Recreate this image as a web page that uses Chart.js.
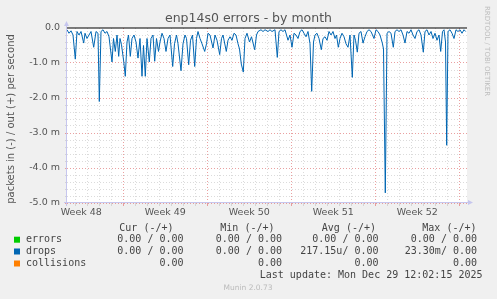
<!DOCTYPE html>
<html><head><meta charset="utf-8">
<script src="https://cdn.jsdelivr.net/npm/chart.js@4/dist/chart.umd.min.js"></script>
<style>
html,body{margin:0;padding:0;background:#f0f0f0;overflow:hidden}
canvas{display:block}
</style></head>
<body>
<canvas id="c" width="497" height="299"></canvas>
<script>
// time in hours since the left edge of the graph
const hours = [
 0,4,8,12,16.6,20,24,28,33.4,36,
 40,44,48,53.4,58,62,64.6,68,72,76,
 80,84,90,93,96.6,100,103.4,106,109,113.4,
 116.6,120,123,126.6,130,134,138,142,146,150,
 153,156.6,160,164.6,168,172,175.4,179,183,186,
 190,194,198,202,206,211.4,215,219,222,228,
 232,236,239,243.4,247,251,255.4,259,262,266,
 270,275.4,279,282,286,292,296,300,305.4,309,
 312,318.6,322,326,330,334,338,342,345,348.6,
 352.6,356,360,365,369,375.4,379,382,388,392,
 396,402,406,410,416,420.6,424,428,432,436,
 442,446,450,454,458,462,466,470,474,478,
 482,486,489.4,493,496,500,504,508.6,512,516,
 520,524,528,532,536,539,542.6,546,550,554,
 558,562,566,570.6,574,577,580.6,584,588,592,
 596,600,604,608,614,618,622,626,630.6,633,
 636.6,640,644,648,652.6,656,660,664,668,672,
 676,680,684,688,692,696,700,704,708,712.6,
 716,720,724,728,732,736,740,744,747.4,751,
 754,757,759.4,762,766,770,774,778,782,786,
 790,794,797.4
];
// drops, "in" direction (plotted negative), in milli-packets per second
const dropsIn = [
 -0.05,-0.15,-0.08,-0.2,-0.89,-0.1,-0.2,-0.1,-0.43,-0.15,
 -0.3,-0.2,-0.1,-0.55,-0.1,-0.15,-2.1,-0.1,-0.05,-0.15,
 -0.1,-0.25,-0.97,-0.3,-0.67,-0.2,-0.81,-0.3,-0.48,-0.95,
 -1.38,-0.4,-0.2,-0.81,-0.3,-0.2,-0.4,-0.86,-0.3,-1.38,
 -0.5,-1.38,-0.3,-0.97,-0.3,-0.2,-0.95,-0.3,-0.67,-0.4,
 -0.15,-0.3,-0.67,-0.3,-0.2,-1.1,-0.45,-0.2,-0.45,-1.22,
 -0.45,-0.2,-0.3,-1.05,-0.35,-0.2,-1.1,-0.3,-0.1,-0.3,
 -0.45,-0.67,-0.45,-0.15,-0.2,-0.57,-0.2,-0.35,-0.76,-0.3,
 -0.2,-0.67,-0.35,-0.25,-0.35,-0.15,-0.2,-0.45,-0.6,-1.03,
 -1.26,-0.3,-0.15,-0.4,-0.25,-0.62,-0.2,-0.1,-0.05,-0.1,
 -0.05,-0.1,-0.05,-0.1,-0.05,-0.84,-0.1,-0.05,-0.1,-0.05,
 -0.35,-0.2,-0.55,-0.15,-0.2,-0.3,-0.1,-0.05,-0.15,-0.25,
 -0.1,-0.45,-1.81,-0.4,-0.2,-0.15,-0.3,-0.62,-0.3,-0.25,
 -0.35,-0.1,-0.2,-0.1,-0.3,-0.2,-0.55,-0.3,-0.15,-0.25,
 -0.45,-0.55,-0.2,-1.41,-0.2,-0.35,-0.69,-0.15,-0.1,-0.43,
 -0.25,-0.1,-0.05,-0.1,-0.3,-0.05,-0.1,-0.2,-0.43,-0.6,
 -4.71,-0.15,-0.1,-0.15,-0.55,-0.1,-0.05,-0.1,-0.05,-0.2,
 -0.43,-0.1,-0.15,-0.05,-0.2,-0.3,-0.1,-0.05,-0.2,-0.69,
 -0.1,-0.05,-0.2,-0.1,-0.3,-0.15,-0.35,-0.2,-0.67,-0.1,
 -0.05,-0.4,-3.35,-0.1,-0.05,-0.15,-0.3,-0.05,-0.1,-0.05,
 -0.15,-0.05,-0.1
];
// zero rule (out direction is 0 everywhere)
const zeroRuleHours = [0, 800];
const zeroRuleValues = [0, 0];

const weekLabels = ['Week 48','Week 49','Week 50','Week 51','Week 52'];
const weekCenters = [28.6, 196.6, 364.6, 532.6, 700.6];
const weekBounds = [112.6, 280.6, 448.6, 616.6, 784.6];
const firstDayLine = 16.6;

const legendNames = ['errors','drops','collisions'];
const legendColors = ['#00cc00','#0066b3','#ff8000'];
const legendHeaders = ['Cur (-/+)','Min (-/+)','Avg (-/+)','Max (-/+)'];
const legendCur = ['0.00 / 0.00','0.00 / 0.00','0.00'];
const legendMin = ['0.00 / 0.00','0.00 / 0.00','0.00'];
const legendAvg = ['0.00 / 0.00','217.15u/ 0.00','0.00'];
const legendMax = ['0.00 / 0.00','23.30m/ 0.00','0.00'];
const titleText = 'enp14s0 errors - by month';
const yTitle = 'packets in (-) / out (+) per second';
const lastUpdate = 'Last update: Mon Dec 29 12:02:15 2025';
const footer = 'Munin 2.0.73';
const sideText = 'RRDTOOL / TOBI OETIKER';

const near = (a, arr) => arr.some(v => Math.abs(v - a) < 1e-6);

const decor = {
  id: 'decor',
  beforeDraw(chart) {
    const {ctx, chartArea: a} = chart;
    ctx.save();
    ctx.fillStyle = '#f0f0f0';
    ctx.fillRect(0, 0, chart.width, chart.height);
    ctx.fillStyle = '#ffffff';
    ctx.fillRect(a.left, a.top, a.right - a.left, a.bottom - a.top);
    ctx.restore();
  },
  afterDraw(chart) {
    const {ctx, chartArea: a} = chart;
    ctx.save();
    // axes with arrows
    ctx.strokeStyle = '#c6c6ee';
    ctx.fillStyle = '#c6c6ee';
    ctx.lineWidth = 1;
    ctx.beginPath();
    ctx.moveTo(a.left - 0.5, a.bottom + 3);
    ctx.lineTo(a.left - 0.5, a.top - 4);
    ctx.moveTo(a.left - 3, a.bottom - 0.5);
    ctx.lineTo(a.right + 3, a.bottom - 0.5);
    ctx.stroke();
    ctx.beginPath();
    ctx.moveTo(a.left - 0.5, a.top - 7);
    ctx.lineTo(a.left - 3, a.top - 2);
    ctx.lineTo(a.left + 2, a.top - 2);
    ctx.closePath(); ctx.fill();
    ctx.beginPath();
    ctx.moveTo(a.right + 6, a.bottom - 0.5);
    ctx.lineTo(a.right + 1, a.bottom - 3);
    ctx.lineTo(a.right + 1, a.bottom + 2);
    ctx.closePath(); ctx.fill();

    // title
    ctx.fillStyle = '#555555';
    ctx.font = '12.5px "DejaVu Sans"';
    ctx.textAlign = 'center';
    ctx.textBaseline = 'middle';
    ctx.fillText(titleText, 248.5, 19);

    // y title
    ctx.save();
    ctx.translate(11, 119);
    ctx.rotate(-Math.PI / 2);
    ctx.font = '10px "DejaVu Sans"';
    ctx.fillStyle = '#555';
    ctx.fillText(yTitle, 0, 0);
    ctx.restore();

    // side text
    ctx.save();
    ctx.translate(487, 6);
    ctx.rotate(Math.PI / 2);
    ctx.font = '7px "DejaVu Sans"';
    ctx.fillStyle = '#bdbdbd';
    ctx.textAlign = 'left';
    ctx.fillText(sideText, 0, 0);
    ctx.restore();

    // legend
    ctx.font = '10px "DejaVu Sans Mono"';
    ctx.fillStyle = '#444';
    ctx.textAlign = 'right';
    const hx = [173.5, 274.5, 376, 476.5];
    legendHeaders.forEach((h, i) => ctx.fillText(h, hx[i], 228));
    const rows = [239.7, 251.5, 263.5];
    const colX = [183.5, 282, 378.5, 477];
    legendNames.forEach((n, i) => {
      ctx.fillStyle = legendColors[i];
      ctx.fillRect(14, rows[i] - 3, 6, 6);
      ctx.fillStyle = '#444';
      ctx.textAlign = 'left';
      ctx.fillText(n, 26, rows[i]);
      ctx.textAlign = 'right';
      [legendCur, legendMin, legendAvg, legendMax].forEach((col, j) => {
        ctx.fillText(col[i], colX[j], rows[i]);
      });
    });
    ctx.textAlign = 'right';
    ctx.fillText(lastUpdate, 482.5, 275.7);
    ctx.textAlign = 'center';
    ctx.font = '7.5px "DejaVu Sans"';
    ctx.fillStyle = '#bbbbbb';
    ctx.fillText(footer, 248, 288);
    ctx.restore();
  }
};

new Chart(document.getElementById('c'), {
  type: 'line',
  data: {
    datasets: [
      {
        label: 'zero',
        data: zeroRuleHours.map((h, i) => ({x: h, y: zeroRuleValues[i]})),
        borderColor: '#000000', borderWidth: 1, pointRadius: 0, clip: false, order: 0
      },
      {
        label: 'drops',
        data: hours.map((h, i) => ({x: h, y: dropsIn[i]})),
        borderColor: '#0066b3', borderWidth: 1, pointRadius: 0, tension: 0, clip: false, order: 1
      }
    ]
  },
  options: {
    responsive: false,
    animation: false,
    events: [],
    layout: {padding: {left: 0, right: 30, top: 28, bottom: 0}},
    plugins: {legend: {display: false}, tooltip: {enabled: false}, title: {display: false}},
    scales: {
      x: {
        type: 'linear', min: 0, max: 800,
        afterFit(s) { s.height = 96; },
        afterBuildTicks(s) {
          const t = [];
          for (let v = firstDayLine; v < 800; v += 24) t.push({value: Math.round(v * 10) / 10});
          weekCenters.forEach(v => t.push({value: v}));
          t.sort((p, q) => p.value - q.value);
          s.ticks = t;
        },
        ticks: {
          autoSkip: false, maxRotation: 0, minRotation: 0, padding: 1,
          color: '#555', font: {family: 'DejaVu Sans', size: 9.5},
          callback(v) { const i = weekCenters.findIndex(c => Math.abs(c - v) < 1e-6); return i >= 0 ? weekLabels[i] : ''; }
        },
        grid: {
          drawTicks: true, tickLength: 3,
          color(ctx) {
            const v = ctx.tick ? ctx.tick.value : null;
            if (v === null || near(v, weekCenters)) return 'rgba(0,0,0,0)';
            return near(v, weekBounds) ? 'rgba(225,120,120,0.7)' : 'rgba(190,190,190,0.55)';
          }
        },
        border: {display: false, dash: [1, 2]}
      },
      y: {
        type: 'linear', min: -5, max: 0,
        afterFit(s) { s.width = 67; },
        ticks: {
          stepSize: 0.2, autoSkip: false, padding: 5,
          color: '#555', font: {family: 'DejaVu Sans', size: 9.5},
          callback(v) {
            if (Math.abs(v) < 1e-9) return '0.0';
            if (Math.abs(v - Math.round(v)) < 1e-6) return Math.round(v).toFixed(1) + ' m';
            return '';
          }
        },
        grid: {
          drawTicks: true, tickLength: 2,
          color(ctx) {
            const v = ctx.tick ? ctx.tick.value : 0;
            if (Math.abs(v) < 1e-9) return 'rgba(0,0,0,0)';
            return Math.abs(v - Math.round(v)) < 1e-6 ? 'rgba(225,120,120,0.7)' : 'rgba(190,190,190,0.55)';
          }
        },
        border: {display: false, dash: [1, 2]}
      }
    }
  },
  plugins: [decor]
});
</script>
</body></html>
